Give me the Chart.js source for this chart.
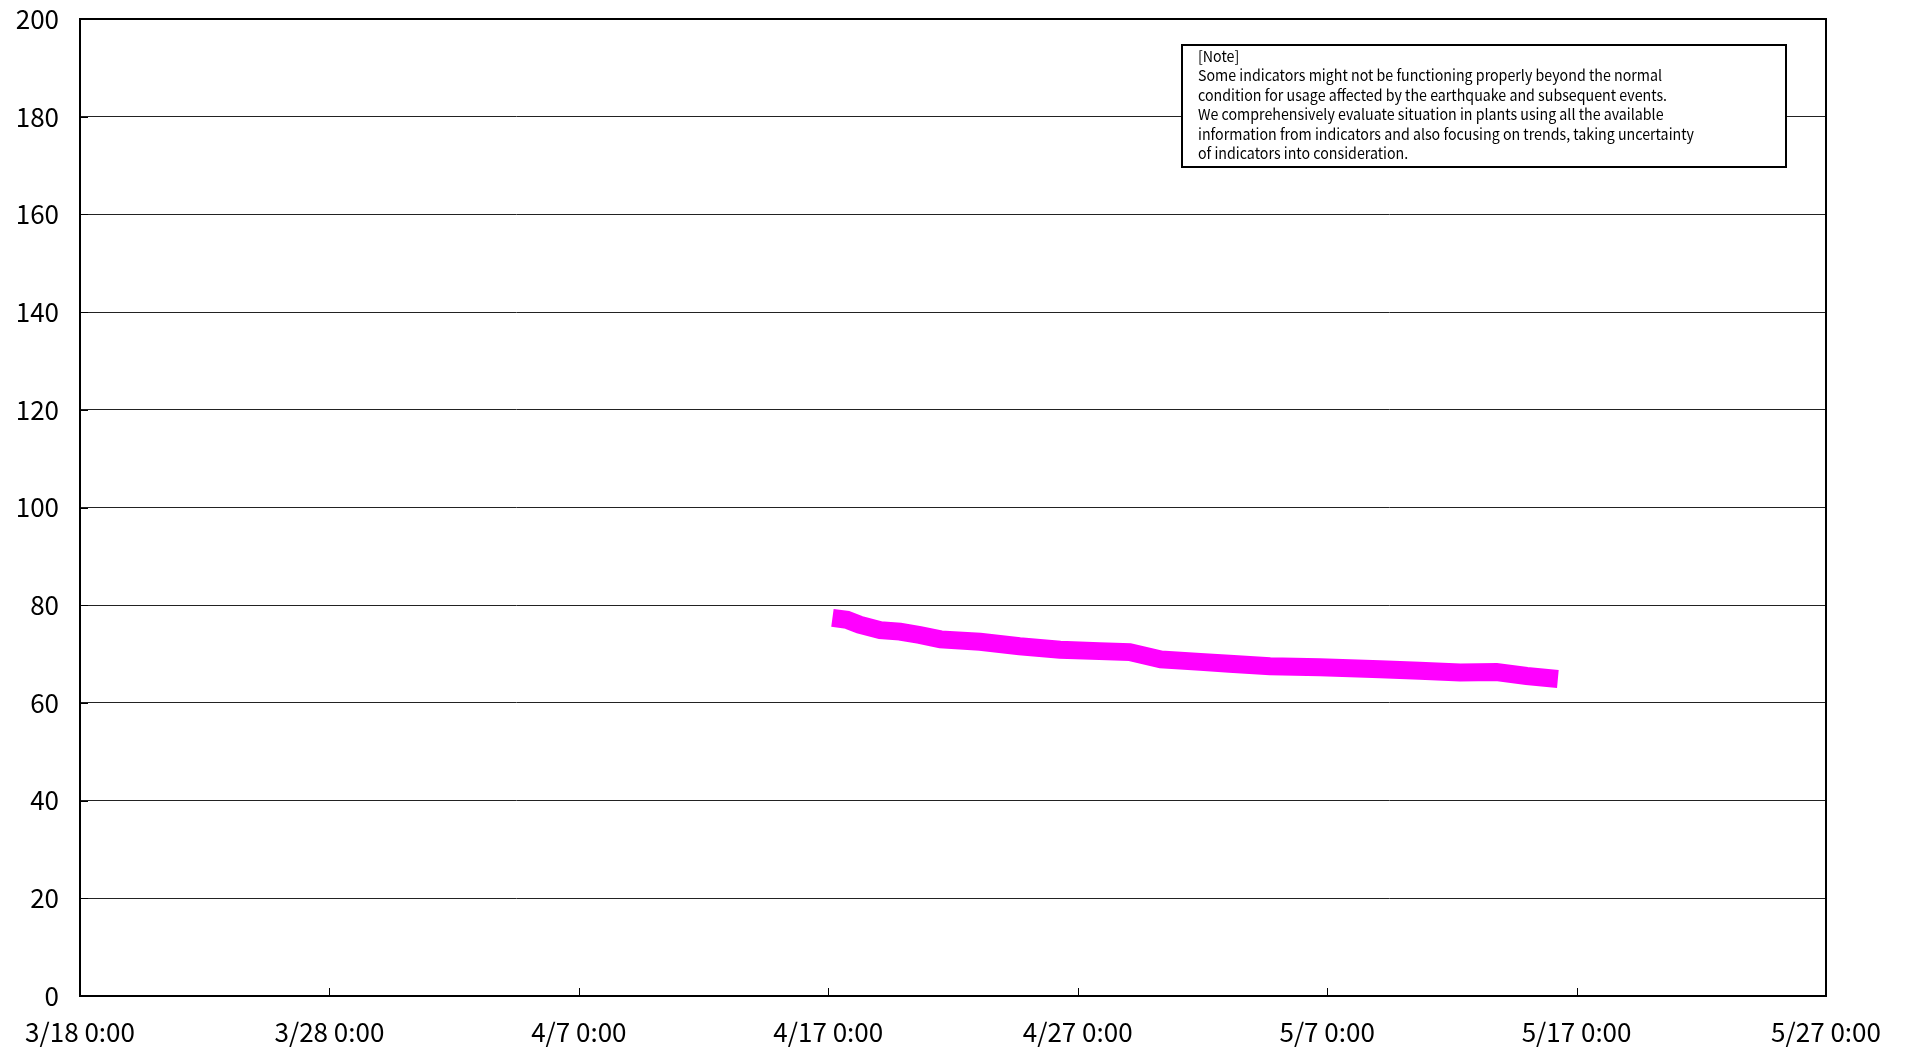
<!DOCTYPE html>
<html>
<head>
<meta charset="utf-8">
<script src="https://cdn.jsdelivr.net/npm/chart.js@4.4.0/dist/chart.umd.min.js"></script>
<style>
html, body { margin: 0; padding: 0; background: #fff; }
#wrap { width: 1912px; height: 1053px; }
</style>
</head>
<body>
<div id="wrap"><canvas id="chart"></canvas></div>
<script>
// readings (2011), date-time of each reading and its value
const times = [
    '4/17 04:00', '4/17 18:00', '4/18 06:00', '4/19 02:00', '4/19 21:00',
    '4/20 16:00', '4/21 12:00', '4/23 02:00', '4/24 16:00', '4/26 07:00',
    '4/27 21:00', '4/29 02:00', '4/30 08:00', '5/1 22:00', '5/3 02:00',
    '5/4 17:00', '5/6 17:00', '5/9 03:00', '5/10 17:00', '5/12 08:00',
    '5/13 19:00', '5/15 00:00', '5/16 06:00'
];
const values = [
    77.4, 77.0, 76.0, 74.9, 74.6,
    73.9, 73.0, 72.5, 71.6, 70.9,
    70.6, 70.4, 68.9, 68.4, 68.0,
    67.5, 67.3, 66.9, 66.6, 66.2,
    66.3, 65.5, 64.9
];

const xTickDates = ['3/18', '3/28', '4/7', '4/17', '4/27', '5/7', '5/17', '5/27'];
const yMin = 0;
const yMax = 200;
const yStep = 20;

const noteLines = [
    '[Note]',
    'Some indicators might not be functioning properly beyond the normal',
    'condition for usage affected by the earthquake and subsequent events.',
    'We comprehensively evaluate situation in plants using all the available',
    'information from indicators and also focusing on trends, taking uncertainty',
    'of indicators into consideration.'
];

const YEAR = 2011;
const ORIGIN = Date.UTC(YEAR, 2, 18);

function toDays(s) {
    const parts = s.split(' ');
    const md = parts[0].split('/').map(Number);
    const hm = (parts[1] || '0:00').split(':').map(Number);
    return (Date.UTC(YEAR, md[0] - 1, md[1], hm[0], hm[1]) - ORIGIN) / 86400000;
}

function dayLabel(v) {
    const d = new Date(ORIGIN + v * 86400000);
    return (d.getUTCMonth() + 1) + '/' + d.getUTCDate() + ' 0:00';
}

const points = times.map((t, i) => ({ x: toDays(t), y: values[i] }));
const xTicks = xTickDates.map(toDays);

const tickFont = { family: '"Noto Sans CJK JP", "Noto Sans", sans-serif', size: 26 };

// frame, inward tick marks and note box
const decor = {
    id: 'decor',
    afterDraw(chart) {
        const ctx = chart.ctx;
        const a = chart.chartArea;
        const xs = chart.scales.x;
        const ys = chart.scales.y;
        ctx.save();
        ctx.strokeStyle = '#000';
        ctx.lineWidth = 1;
        ctx.beginPath();
        xTicks.forEach(v => {
            const px = Math.round(xs.getPixelForValue(v)) + 0.5;
            ctx.moveTo(px, a.bottom);
            ctx.lineTo(px, a.bottom - 8);
        });
        for (let v = yMin; v <= yMax; v += yStep) {
            const py = Math.round(ys.getPixelForValue(v)) + 0.5;
            ctx.moveTo(a.left, py);
            ctx.lineTo(a.left + 8, py);
        }
        ctx.stroke();

        ctx.lineWidth = 2;
        ctx.strokeRect(a.left, a.top, a.right - a.left, a.bottom - a.top);

        // note box
        const bx = 1182, by = 45, bw = 604, bh = 122;
        ctx.fillStyle = '#fff';
        ctx.fillRect(bx, by, bw, bh);
        ctx.lineWidth = 2;
        ctx.strokeRect(bx, by, bw, bh);
        ctx.fillStyle = '#000';
        ctx.font = '15px "Noto Sans CJK JP", "Noto Sans", sans-serif';
        ctx.textBaseline = 'middle';
        let widest = 0;
        noteLines.forEach(l => { widest = Math.max(widest, ctx.measureText(l).width); });
        const f = 496 / widest;
        noteLines.forEach((l, i) => {
            ctx.save();
            ctx.translate(1198, 56 + i * 19.5);
            ctx.scale(f, 1);
            ctx.fillText(l, 0, 0);
            ctx.restore();
        });
        ctx.restore();
    }
};

const chartEl = document.getElementById('chart');

const config = {
    type: 'line',
    data: {
        datasets: [{
            label: 'reading',
            data: points,
            borderColor: '#ff00ff',
            backgroundColor: '#ff00ff',
            borderWidth: 18,
            borderCapStyle: 'butt',
            borderJoinStyle: 'miter',
            pointRadius: 0,
            tension: 0,
            fill: false
        }]
    },
    options: {
        responsive: true,
        maintainAspectRatio: false,
        animation: false,
        layout: { padding: { top: 19, right: 86, left: 0, bottom: 0 } },
        plugins: {
            legend: { display: false },
            tooltip: { enabled: false }
        },
        scales: {
            x: {
                type: 'linear',
                min: 0,
                max: 70,
                afterBuildTicks: s => { s.ticks = xTicks.map(v => ({ value: v })); },
                afterFit: s => { s.height = 57; },
                grid: { display: false, drawTicks: false },
                border: { display: false },
                ticks: {
                    font: tickFont,
                    color: '#000',
                    padding: 21,
                    maxRotation: 0,
                    autoSkip: false,
                    callback: v => dayLabel(v)
                }
            },
            y: {
                min: yMin,
                max: yMax,
                afterFit: s => { s.width = 80; s.paddingTop = 0; s.paddingBottom = 0; },
                grid: { color: '#222', lineWidth: 1, drawTicks: false },
                border: { display: false },
                ticks: {
                    stepSize: yStep,
                    font: tickFont,
                    color: '#000',
                    padding: 21
                }
            }
        }
    },
    plugins: [decor]
};

const chart = new Chart(chartEl, config);
</script>
</body>
</html>
